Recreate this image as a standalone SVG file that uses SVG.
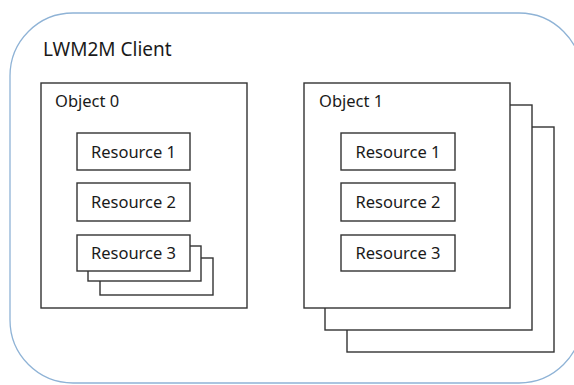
<svg xmlns="http://www.w3.org/2000/svg" width="574" height="385" viewBox="0 0 574 385">
<style>
  .box { fill: #ffffff; stroke: #333333; stroke-width: 1.4; }
  .t { font-family: "Noto Sans", "Open Sans", "Liberation Sans", sans-serif; fill: #1a1a1a; }
  .res { font-size: 16.5px; text-anchor: middle; }
  .obj { font-size: 16.5px; }
</style>
<rect x="0" y="0" width="574" height="385" fill="#ffffff"/>
<g id="client">
  <rect x="10" y="13" width="572" height="370" rx="63" ry="63" fill="#ffffff" stroke="#8fb3d6" stroke-width="1.3"/>
  <text class="t" x="43" y="56" font-size="19">LWM2M Client</text>
</g>
<g id="object0">
  <rect class="box" x="41" y="83" width="206" height="225"/>
  <text class="t obj" x="55" y="107">Object 0</text>
</g>
<g id="object0-resource1">
  <rect class="box" x="77" y="133" width="113" height="37"/>
  <text class="t res" x="133.5" y="158">Resource 1</text>
</g>
<g id="object0-resource2">
  <rect class="box" x="77" y="183" width="113" height="38"/>
  <text class="t res" x="133.5" y="208">Resource 2</text>
</g>
<g id="object0-resource3">
  <rect class="box" x="100" y="258" width="113" height="37"/>
  <rect class="box" x="88" y="246" width="113" height="35"/>
  <rect class="box" x="77" y="235" width="113" height="36"/>
  <text class="t res" x="133.5" y="259">Resource 3</text>
</g>
<g id="object1">
  <rect class="box" x="347" y="127" width="207" height="225"/>
  <rect class="box" x="325" y="105" width="207" height="225"/>
  <rect class="box" x="304" y="83" width="206" height="225"/>
  <text class="t obj" x="319" y="107">Object 1</text>
</g>
<g id="object1-resource1">
  <rect class="box" x="341" y="133" width="114" height="37"/>
  <text class="t res" x="398" y="158">Resource 1</text>
</g>
<g id="object1-resource2">
  <rect class="box" x="341" y="183" width="114" height="38"/>
  <text class="t res" x="398" y="208">Resource 2</text>
</g>
<g id="object1-resource3">
  <rect class="box" x="341" y="235" width="114" height="36"/>
  <text class="t res" x="398" y="259">Resource 3</text>
</g>
<g id="connectors"></g>
</svg>
